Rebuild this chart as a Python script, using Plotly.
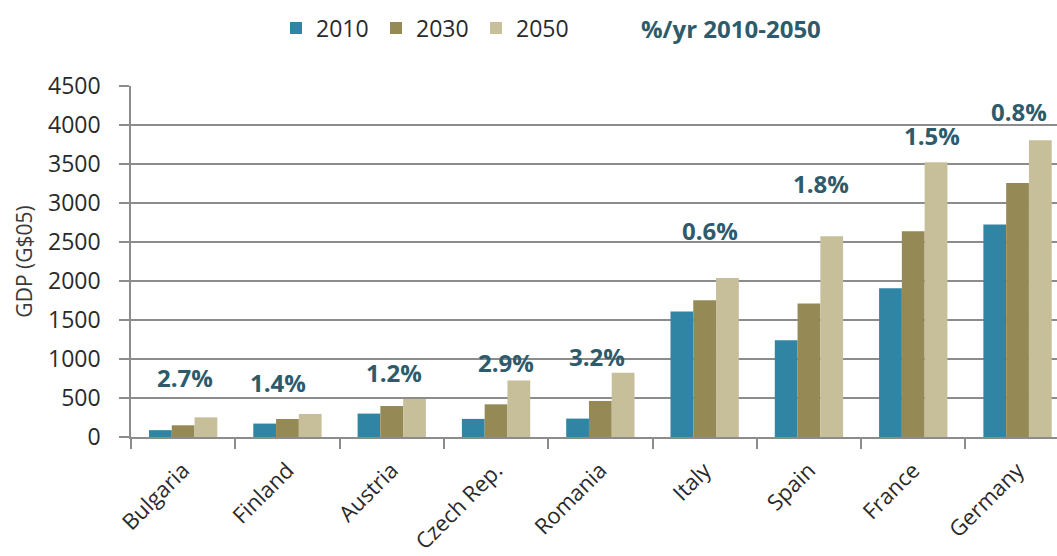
import plotly.graph_objects as go

# GDP by country (G$05) for three horizon years
countries = ["Bulgaria", "Finland", "Austria", "Czech Rep.", "Romania",
             "Italy", "Spain", "France", "Germany"]
gdp_2010 = [88, 172, 300, 232, 236, 1608, 1240, 1906, 2723]
gdp_2030 = [150, 231, 397, 419, 462, 1753, 1710, 2637, 3256]
gdp_2050 = [252, 295, 487, 723, 825, 2039, 2573, 3522, 3804]

# Average annual growth 2010-2050 written above each country group
growth_labels = ["2.7%", "1.4%", "1.2%", "2.9%", "3.2%", "0.6%", "1.8%", "1.5%", "0.8%"]
growth_label_y = [767, 705, 833, 961, 1026, 2650, 3249, 3868, 4167]
growth_label_dx = [2, -9, 2, 10, -3, 5, 12, 19, 1]

y_ticks = [0, 500, 1000, 1500, 2000, 2500, 3000, 3500, 4000, 4500]

C2010 = "#2f85a3"
C2030 = "#958a55"
C2050 = "#c7bf99"
LABEL = "#2d5b6b"
FONT = "Open Sans"

fig = go.Figure()
for name, vals, col in [("2010", gdp_2010, C2010),
                        ("2030", gdp_2030, C2030),
                        ("2050", gdp_2050, C2050)]:
    fig.add_trace(go.Bar(x=countries, y=vals, name=name,
                         marker=dict(color=col, line=dict(width=0))))

for c, t, yv, dx in zip(countries, growth_labels, growth_label_y, growth_label_dx):
    fig.add_annotation(x=c, y=yv, text=f"<b>{t}</b>", showarrow=False,
                       xshift=dx, font=dict(family=FONT, size=24, color=LABEL))

fig.add_annotation(xref="paper", yref="paper", x=(731 - 131) / 926, y=(437 - 28) / 351,
                   text="<b>%/yr 2010-2050</b>", showarrow=False,
                   xanchor="center", yanchor="middle",
                   font=dict(family=FONT, size=24, color=LABEL))

n_visible = (1057 - 131) / 104.3
fig.update_layout(
    width=1057, height=556,
    margin=dict(l=131, r=0, t=86, b=119, autoexpand=False),
    paper_bgcolor="white", plot_bgcolor="white",
    barmode="group", bargap=0.345, bargroupgap=0,
    font=dict(family=FONT, size=22, color="#3a3a3a"),
    showlegend=True,
    legend=dict(orientation="h", xref="container", yref="container",
                x=276 / 1057, y=1 - 28 / 556, xanchor="left", yanchor="middle",
                font=dict(family=FONT, size=23, color="#2a2a2a"),
                traceorder="normal", itemwidth=30, entrywidth=55,
                bgcolor="rgba(0,0,0,0)"),
    xaxis=dict(range=[-0.5, -0.5 + n_visible], showgrid=False,
               showline=True, linecolor="#8c8c8c", linewidth=1.5,
               ticks="outside", tickson="boundaries", ticklen=10,
               tickcolor="#8c8c8c", tickwidth=1.5, tickangle=-45,
               ticklabelstandoff=10,
               tickfont=dict(family=FONT, size=22, color="#2a2a2a")),
    yaxis=dict(range=[0, 4500], tickvals=y_ticks, showgrid=True,
               gridcolor="#8c8c8c", gridwidth=1.5,
               showline=True, linecolor="#8c8c8c", linewidth=1.5,
               ticks="outside", ticklen=10, tickcolor="#8c8c8c", tickwidth=1.5,
               zeroline=False, ticklabelstandoff=14,
               tickfont=dict(family=FONT, size=23, color="#2a2a2a"),
               title=dict(text="GDP (G$05)", standoff=10,
                          font=dict(family=FONT, size=21, color="#3a3a3a"))),
)

fig.write_html("out.html")
